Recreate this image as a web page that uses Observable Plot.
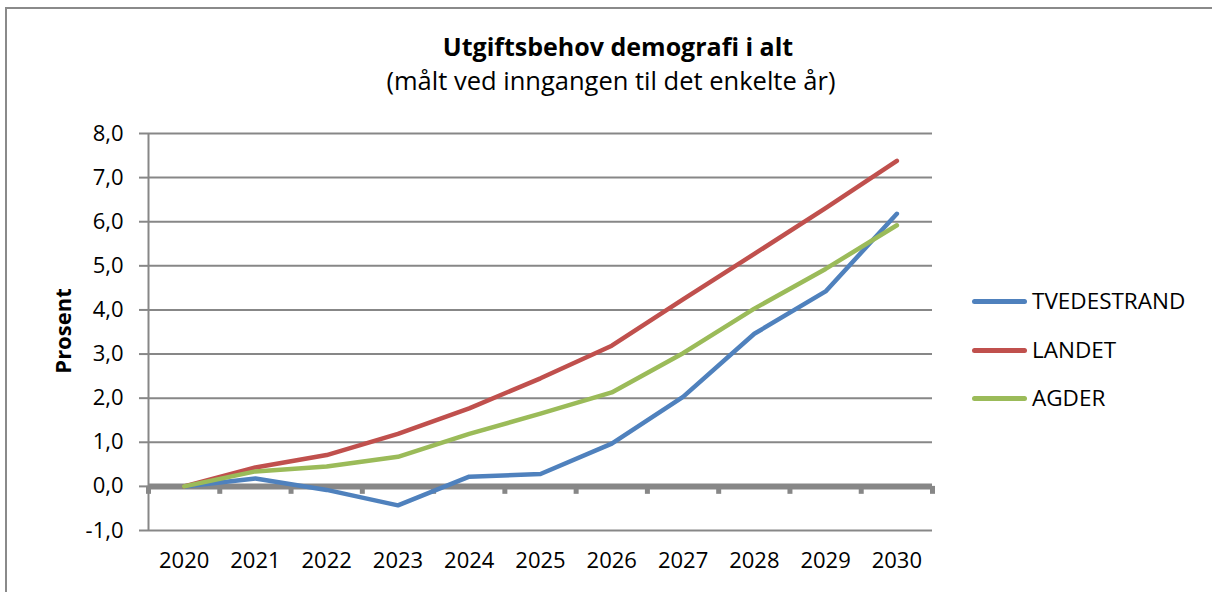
<!DOCTYPE html>
<html>
<head>
<meta charset="utf-8">
<script src="https://cdn.jsdelivr.net/npm/d3@7"></script>
<script src="https://cdn.jsdelivr.net/npm/@observablehq/plot@0.6"></script>
<style>
  html, body { margin: 0; padding: 0; background: #fff; }
  #wrap { position: relative; width: 1212px; height: 592px; overflow: hidden; font-family: "Open Sans", sans-serif; color: #000; }
  #border { position: absolute; left: 5px; top: 7px; width: 1220px; height: 600px; border-top: 2px solid #8a8a8a; border-left: 2px solid #8a8a8a; box-sizing: border-box; }
  #title { position: absolute; left: 0; width: 1236px; top: 30px; text-align: center; font-weight: bold; font-size: 25px; line-height: 32px; }
  #subtitle { position: absolute; left: 0; width: 1222px; top: 63px; text-align: center; font-size: 25.5px; line-height: 34px; }
  #ylabel { position: absolute; left: 62px; top: 331px; transform: translate(-50%, -50%) rotate(-90deg); font-weight: bold; font-size: 22px; white-space: nowrap; }
  #legend { position: absolute; left: 972px; top: 0; }
  .item { position: absolute; left: 0; white-space: nowrap; }
  .swatch { position: absolute; left: 0; width: 55px; height: 5px; border-radius: 3px; }
  .lab { position: absolute; left: 60px; font-size: 22.5px; line-height: 28px; top: -14px; }
  #chart { position: absolute; left: 0; top: 0; }
</style>
</head>
<body>
<div id="wrap">
  <div id="border"></div>
  <div id="chart"></div>
  <div id="title">Utgiftsbehov demografi i alt</div>
  <div id="subtitle">(målt ved inngangen til det enkelte år)</div>
  <div id="ylabel">Prosent</div>
  <div id="legend"></div>
</div>
<script>
const years = [2020, 2021, 2022, 2023, 2024, 2025, 2026, 2027, 2028, 2029, 2030];
const seriesNames = ["TVEDESTRAND", "LANDET", "AGDER"];
const seriesColors = ["#4F81BD", "#C0504D", "#9BBB59"];
const tvedestrand = [0.0, 0.18, -0.08, -0.43, 0.22, 0.28, 0.97, 2.03, 3.46, 4.42, 6.18];
const landet = [0.0, 0.43, 0.71, 1.19, 1.77, 2.45, 3.19, 4.24, 5.27, 6.31, 7.38];
const agder = [0.0, 0.34, 0.45, 0.67, 1.19, 1.65, 2.13, 3.02, 4.03, 4.93, 5.92];
const yTicks = [-1, 0, 1, 2, 3, 4, 5, 6, 7, 8];

const seriesValues = [tvedestrand, landet, agder];
const data = [];
seriesNames.forEach((name, i) => {
  years.forEach((yr, j) => data.push({series: name, year: yr, value: seriesValues[i][j]}));
});
const boundaries = [years[0] - 0.5, ...years.map(y => y + 0.5)];
const fmt = d => d.toFixed(1).replace(".", ",");
const gray = "#878787";

const chart = Plot.plot({
  width: 1212,
  height: 592,
  marginLeft: 148,
  marginRight: 280,
  marginTop: 133,
  marginBottom: 62,
  style: { fontFamily: "Open Sans, sans-serif", fontSize: "22px", color: "#000", background: "transparent" },
  x: { domain: [years[0] - 0.5, years[years.length - 1] + 0.5] },
  y: { domain: [yTicks[0], yTicks[yTicks.length - 1]] },
  color: { domain: seriesNames, range: seriesColors },
  marks: [
    Plot.gridY(yTicks, { stroke: gray, strokeOpacity: 1, strokeWidth: 2 }),
    Plot.axisY(yTicks, { tickSize: 9, tickPadding: 16, tickFormat: fmt, stroke: gray, strokeWidth: 2, label: null, fill: "#000", fontSize: 22 }),
    Plot.ruleX([years[0] - 0.5], { stroke: gray, strokeWidth: 2 }),
    Plot.ruleX(boundaries, { y1: 0, y2: -0.18, stroke: gray, strokeWidth: 5 }),
    Plot.ruleY([0], { stroke: gray, strokeWidth: 6 }),
    Plot.axisX(years, { tickSize: 0, tickPadding: 22, tickFormat: d => String(d), label: null, fill: "#000", fontSize: 22 }),
    Plot.line(data, { x: "year", y: "value", z: "series", stroke: "series", strokeWidth: 4.5, strokeLinecap: "round", strokeLinejoin: "round" })
  ]
});
document.getElementById("chart").appendChild(chart);

const legendTops = [301, 350, 398];
const legend = document.getElementById("legend");
seriesNames.forEach((name, i) => {
  const item = document.createElement("div");
  item.className = "item";
  item.style.top = legendTops[i] + "px";
  item.innerHTML = `<div class="swatch" style="background:${seriesColors[i]};top:-2.5px"></div><div class="lab">${name}</div>`;
  legend.appendChild(item);
});
</script>
</body>
</html>
